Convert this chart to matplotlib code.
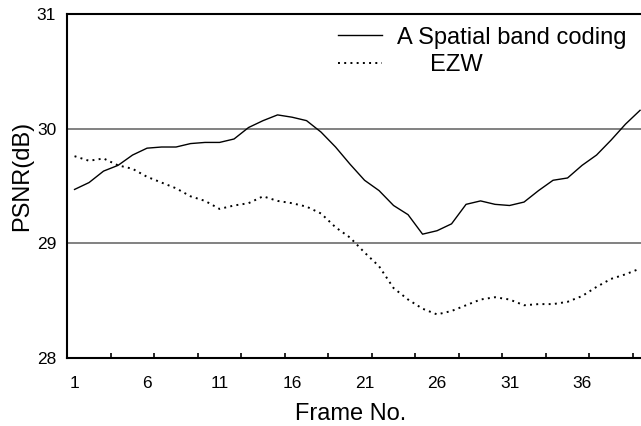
import matplotlib
matplotlib.use("Agg")
import matplotlib.pyplot as plt
import numpy as np

plt.rcParams['font.family'] = ['Liberation Sans', 'DejaVu Sans']

frames = list(range(1, 41))
spatial_band = [29.47, 29.53, 29.63, 29.68, 29.77, 29.83, 29.84, 29.84, 29.87, 29.88,
                29.88, 29.91, 30.01, 30.07, 30.12, 30.10, 30.07, 29.97, 29.84, 29.69,
                29.55, 29.46, 29.33, 29.25, 29.08, 29.11, 29.17, 29.34, 29.37, 29.34,
                29.33, 29.36, 29.46, 29.55, 29.57, 29.68, 29.77, 29.90, 30.04, 30.16]
ezw = [29.76, 29.72, 29.74, 29.68, 29.65, 29.58, 29.53, 29.48, 29.41, 29.37,
       29.30, 29.33, 29.35, 29.41, 29.37, 29.35, 29.32, 29.26, 29.14, 29.05,
       28.92, 28.80, 28.61, 28.51, 28.43, 28.38, 28.41, 28.46, 28.51, 28.53,
       28.51, 28.46, 28.47, 28.47, 28.49, 28.54, 28.62, 28.69, 28.73, 28.78]
x_labels = [1, 6, 11, 16, 21, 26, 31, 36]
y_ticks = [28, 29, 30, 31]
series_names = ["A Spatial band coding", "     EZW"]

W, H = 641, 426
fig = plt.figure(figsize=(W / 100, H / 100), dpi=100)
left_px, right_px = 67.3, 647.3
top_px, bot_px = 14, 358
ax = fig.add_axes([left_px / W, (H - bot_px) / H, (right_px - left_px) / W, (bot_px - top_px) / H])

for yv in [29, 30]:
    ax.axhline(yv, color='#777777', lw=1.3, zorder=1)

l1, = ax.plot(frames, spatial_band, color='black', lw=1.0, zorder=3)
l2, = ax.plot(frames, ezw, color='black', lw=1.4, linestyle=(0, (1, 2.2)), zorder=3)

ax.set_xlim(0.5, 40.5)
ax.set_ylim(28, 31)

ax.set_xticks(x_labels)
ax.set_xticklabels([str(v) for v in x_labels])
ax.set_xticks(np.arange(3.5, 40.5, 3), minor=True)
ax.tick_params(axis='x', which='major', length=0, pad=13, labelsize=12.5)
ax.tick_params(axis='x', which='minor', direction='in', length=3.5, width=1.2)
ax.set_yticks(y_ticks)
ax.tick_params(axis='y', which='major', length=0, pad=8, labelsize=12.5)

for s in ['left', 'bottom', 'top']:
    ax.spines[s].set_linewidth(1.5)
    ax.spines[s].set_color('black')
ax.spines['right'].set_visible(False)

ax.set_xlabel("Frame No.", fontsize=17)
ax.xaxis.set_label_coords(0.489, -0.163)
ax.xaxis.label.set_va('center')
ax.set_ylabel("PSNR(dB)", fontsize=17)
ax.yaxis.set_label_coords(-0.0786, 0.53)
ax.yaxis.label.set_va('center')

ax.legend([l1, l2], series_names, loc='upper left', bbox_to_anchor=(0.4667, 0.963),
          frameon=False, fontsize=17, handlelength=1.87, handletextpad=0.62,
          labelspacing=0.24, borderpad=0, borderaxespad=0)

fig.savefig("out.png", dpi=100)
